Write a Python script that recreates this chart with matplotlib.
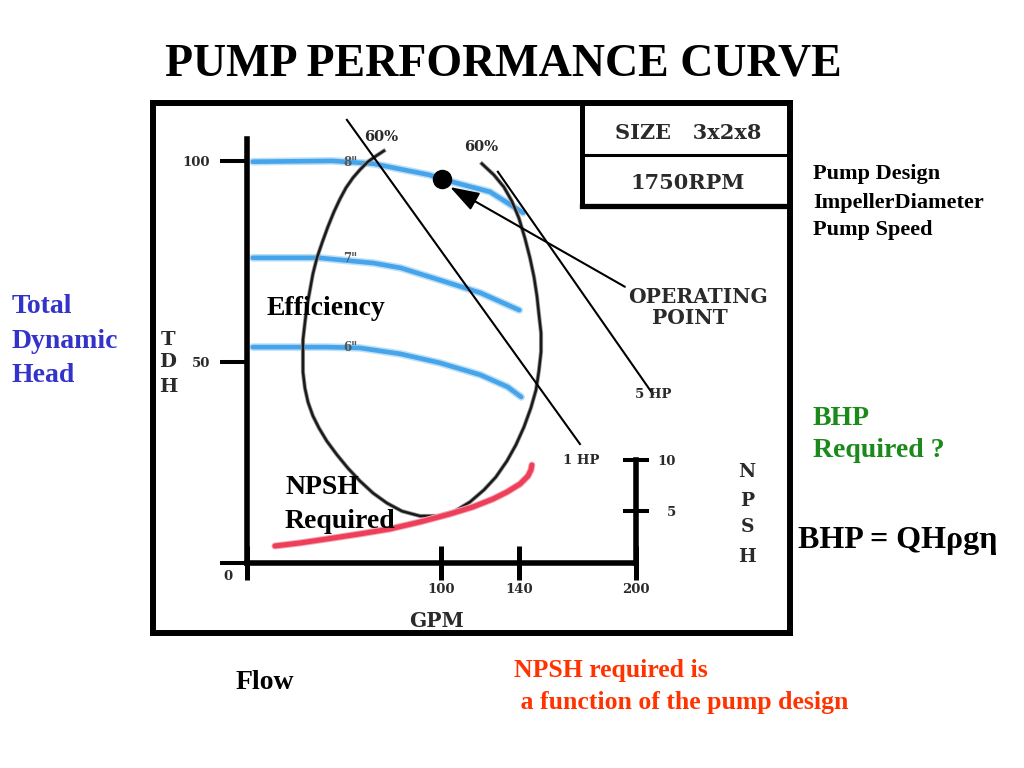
import matplotlib.pyplot as plt
import matplotlib.patheffects as pe

# Head curves (GPM, TDH ft) for each impeller diameter
flow_8 = [3, 44, 65, 94, 100, 125, 142]
head_8 = [99.8, 100, 99.3, 96.5, 95.5, 92.3, 87.1]
flow_7 = [3, 37, 54, 65, 79, 99, 120, 140]
head_7 = [75.9, 75.9, 75.1, 74.6, 73.4, 70.4, 67.2, 62.9]
flow_6 = [3, 41, 58, 79, 99, 120, 134, 141]
head_6 = [53.7, 53.7, 53.5, 52.0, 49.8, 46.8, 43.8, 41.3]
impeller_labels = ['8"', '7"', '6"']

# 60% efficiency contour (GPM, TDH), open at the top
eff_flow = [70.4, 66.3, 62.2, 58.1, 54.5, 50.9, 47.8, 44.7, 41.6, 38.6, 36.0,
            33.9, 32.4, 30.8, 29.8, 28.8, 28.8, 28.8, 29.8, 31.4, 33.9, 37.0,
            41.1, 46.3, 51.9, 58.1, 64.8, 72.0, 79.7, 88.9, 98.2, 106.9, 114.7,
            121.9, 128.0, 133.7, 138.3, 142.4, 146.0, 148.6, 150.1, 151.2, 151.2,
            150.1, 149.1, 147.6, 145.5, 142.9, 139.8, 136.2, 132.1, 127.0, 120.8]
eff_head = [102.5, 101.2, 99.8, 97.8, 95.8, 93.3, 90.5, 87.3, 83.6, 79.6, 75.9,
            71.9, 67.9, 63.7, 59.7, 55.5, 51.2, 47.5, 43.5, 40.0, 36.6, 33.6,
            30.3, 26.9, 23.6, 20.4, 17.4, 14.9, 12.9, 11.7, 11.7, 12.9, 15.2,
            18.2, 21.4, 25.4, 29.4, 33.8, 38.6, 43.0, 47.8, 52.5, 57.2,
            61.9, 66.4, 71.1, 75.9, 80.8, 85.8, 90.0, 93.5, 96.5, 99.3]

# Brake horsepower lines (GPM, TDH)
hp1_flow = [51.4, 171.2]
hp1_head = [110.2, 29.6]
hp5_flow = [129.0, 208.7]
hp5_head = [97.3, 42.0]

# NPSH required (GPM, ft)
npsh_flow = [14.4, 27.2, 41.1, 58.1, 73.5, 88.9, 104.4, 116.2, 126.5, 133.7,
             140.4, 144.5, 146.0, 146.5]
npsh_req = [1.65, 1.94, 2.33, 2.82, 3.30, 3.98, 4.76, 5.44, 6.21, 6.89,
            7.67, 8.45, 9.03, 9.51]

# Operating point and axis ticks
op_flow, op_head = 100.3, 95.5
gpm_ticks = [0, 100, 140, 200]
gpm_labels = ['', '100', '140', '200']
tdh_ticks = [0, 50, 100]
tdh_labels = ['', '50', '100']
npsh_ticks = [5, 10]
npsh_labels = ['5', '10']

plt.rcParams['font.family'] = ['DejaVu Serif']
plt.rcParams['font.weight'] = 'bold'

W, H = 1024, 768
fig = plt.figure(figsize=(W / 100, H / 100), dpi=100)
serif = ['Liberation Serif', 'DejaVu Serif']
ink = '#2a2a2a'


def label(x, y, s, **kw):
    # place text with pixel coordinates measured from top-left
    kw.setdefault('va', 'baseline')
    fig.text(x / W, 1 - y / H, s, **kw)


# outer box
rect = [153 / W, (H - 633) / H, (790 - 153) / W, (633 - 103) / H]
frame = fig.add_axes(rect)
frame.set_xlim(0, 1)
frame.set_ylim(0, 1)
frame.set_xticks([])
frame.set_yticks([])
for sp in frame.spines.values():
    sp.set_linewidth(4.3)
frame.axvline(0.674, ymin=0.806, ymax=1, color='black', lw=3.6)
frame.axhline(0.806, xmin=0.674, xmax=1, color='black', lw=3.8)
frame.axhline(0.902, xmin=0.674, xmax=1, color='black', lw=2.2)

# chart axes (GPM vs TDH)
ax = fig.add_axes(rect, facecolor='none')
ax.set_xlim(-48.3, 279.2)
ax.set_ylim(-17.4, 114.4)
ax.spines['top'].set_visible(False)
ax.spines['right'].set_visible(False)
ax.spines['left'].set_position(('data', 0))
ax.spines['left'].set_bounds(0, 105.5)
ax.spines['bottom'].set_position(('data', 0))
ax.spines['bottom'].set_bounds(0, 200)
for s in ['left', 'bottom']:
    ax.spines[s].set_linewidth(4)
ax.set_xticks(gpm_ticks)
ax.set_xticklabels(gpm_labels)
ax.set_yticks(tdh_ticks)
ax.set_yticklabels(tdh_labels)
ax.tick_params(axis='x', direction='inout', length=24.5, width=3.6, pad=2,
               labelsize=9.5, labelcolor=ink)
ax.tick_params(axis='y', direction='out', length=19.4, width=2.9, pad=7,
               labelsize=9.5, labelcolor=ink)

blue_fx = [pe.Stroke(linewidth=5.5, foreground='#bddff7'), pe.Normal()]
for fl, hd in [(flow_8, head_8), (flow_7, head_7), (flow_6, head_6)]:
    ax.plot(fl, hd, color='#45a4ea', lw=3.3, solid_capstyle='round',
            solid_joinstyle='round', path_effects=blue_fx, zorder=2)

ax.plot(eff_flow, eff_head, color='#1a1a1a', lw=1.8, zorder=3,
        solid_joinstyle='round',
        path_effects=[pe.Stroke(linewidth=3, foreground='#9a9a9a'), pe.Normal()])
ax.plot(hp1_flow, hp1_head, color='black', lw=1.5, zorder=3)
ax.plot(hp5_flow, hp5_head, color='black', lw=1.5, zorder=3)
ax.plot([op_flow], [op_head], 'o', color='black', markersize=13, zorder=4)
ax.annotate('', xy=(104.4, 93.5), xytext=(194.3, 68.7),
            arrowprops=dict(arrowstyle='-|>,head_length=0.9,head_width=0.3',
                            mutation_scale=20, color='black', lw=1.5,
                            shrinkA=0, shrinkB=0), zorder=4)

# NPSH scale on the right
ax2 = ax.twinx()
ax2.set_ylim(-6.8, 44.66)
for s in ['left', 'top', 'bottom']:
    ax2.spines[s].set_visible(False)
ax2.spines['right'].set_position(('data', 200))
ax2.spines['right'].set_bounds(0, 10)
ax2.spines['right'].set_linewidth(4)
ax2.set_yticks(npsh_ticks)
ax2.set_yticklabels(npsh_labels)
ax2.tick_params(axis='y', direction='inout', length=19.4, width=2.9, pad=19,
                labelsize=9.5, labelcolor=ink)
for lbl in ax2.get_yticklabels():
    lbl.set_horizontalalignment('right')
ax2.plot(npsh_flow, npsh_req, color='#ee3f5a', lw=3.6, solid_capstyle='round',
         solid_joinstyle='round',
         path_effects=[pe.Stroke(linewidth=5, foreground='#f6a6b3'), pe.Normal()])

# labels inside the chart
label(228, 576, '0', ha='center', va='center', fontsize=9.5, color=ink)
label(688, 139, 'SIZE   3x2x8', ha='center', fontsize=15, color=ink)
label(688, 189, '1750RPM', ha='center', fontsize=15, color=ink)
label(698, 303, 'OPERATING', ha='center', fontsize=14.5, color=ink)
label(690, 324, 'POINT', ha='center', fontsize=14.5, color=ink)
label(381, 137, '60%', ha='center', va='center', fontsize=10.5, color=ink)
label(481, 147, '60%', ha='center', va='center', fontsize=10.5, color=ink)
for txt, yy in zip(impeller_labels, [162, 258, 347]):
    label(350, yy, txt, ha='center', va='center', fontsize=8.5, color='#555555')
label(581, 460, '1 HP', ha='center', va='center', fontsize=9.5, color=ink)
label(653, 395, '5 HP', ha='center', va='center', fontsize=9.5, color=ink)
for ch, yy in zip('TDH', [340, 362, 387]):
    label(168, yy, ch, ha='center', va='center', fontsize=14, color=ink)
for ch, yy in zip('NPSH', [472, 501, 527, 557]):
    label(747, yy, ch, ha='center', va='center', fontsize=13.5, color=ink)
label(437, 627, 'GPM', ha='center', fontsize=14.5, color=ink)

# slide text
label(503, 76, 'PUMP PERFORMANCE CURVE', ha='center', fontsize=33, family=serif)
for txt, yy in zip(['Total', 'Dynamic', 'Head'], [313, 348, 382]):
    label(12, yy, txt, fontsize=20, color='#3333cc', family=serif)
label(267, 315, 'Efficiency', fontsize=20, family=serif)
label(285, 494, 'NPSH', fontsize=20, family=serif)
label(285, 528, 'Required', fontsize=20, family=serif)
for txt, yy in zip(['Pump Design', 'ImpellerDiameter', 'Pump Speed'], [179, 208, 235]):
    label(813, yy, txt, fontsize=16, family=serif)
label(813, 425, 'BHP', fontsize=20, color='#1a8a1a', family=serif)
label(813, 457, 'Required ?', fontsize=20, color='#1a8a1a', family=serif)
label(798, 548, 'BHP = QHρgη', fontsize=23, family=serif)
label(236, 689, 'Flow', fontsize=20, family=serif)
label(514, 677, 'NPSH required is', fontsize=18.5, color='#ff3300', family=serif)
label(514, 709, ' a function of the pump design', fontsize=18.5, color='#ff3300',
      family=serif)

fig.savefig('out.png', dpi=100)
